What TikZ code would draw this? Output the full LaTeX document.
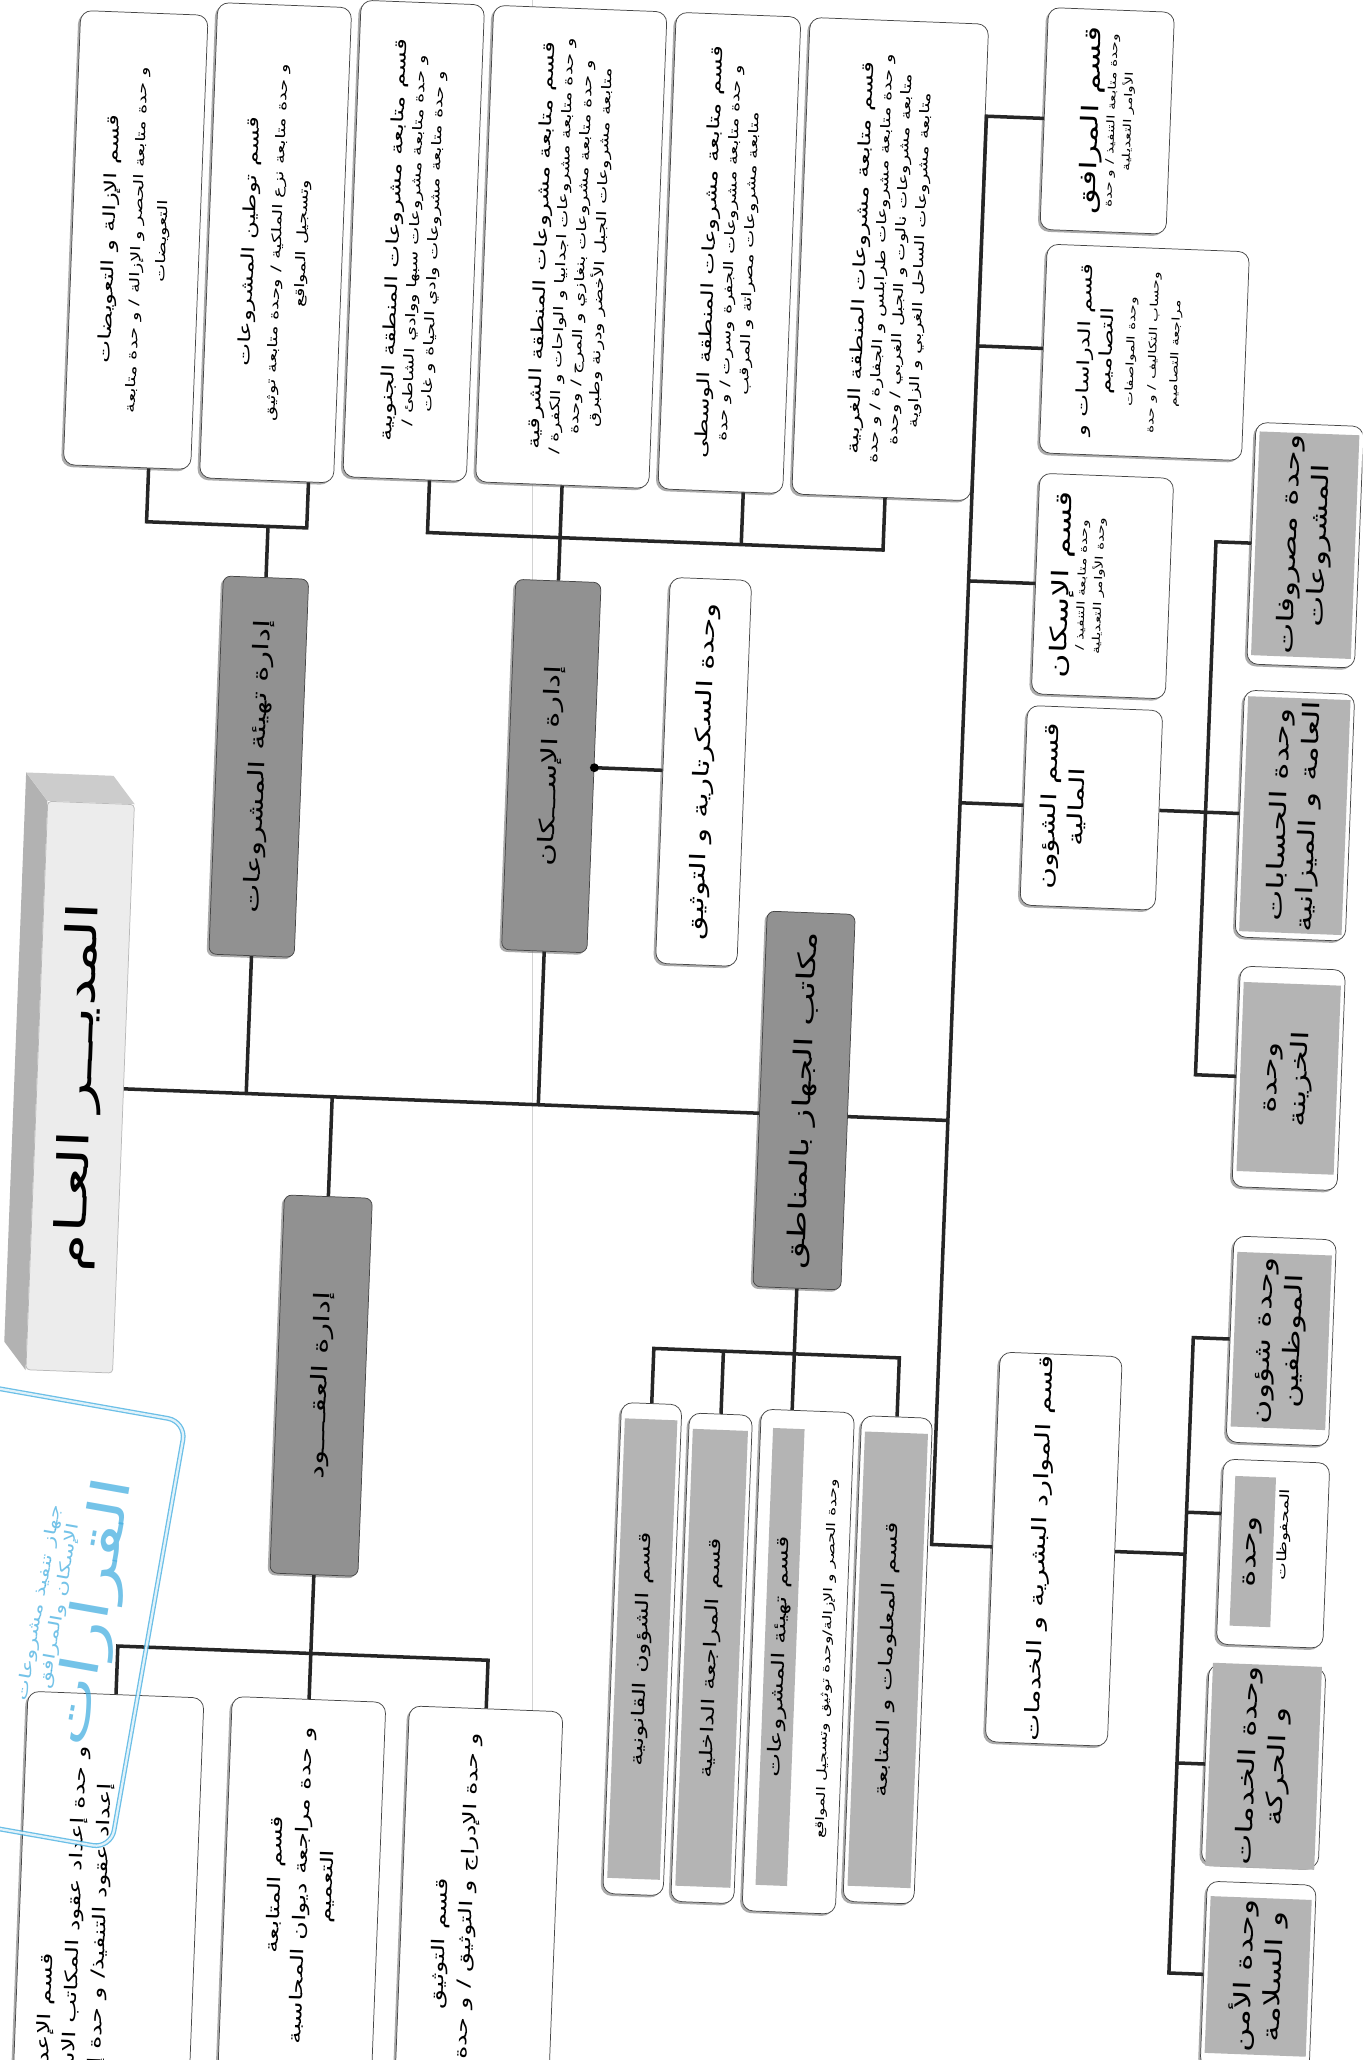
\documentclass[tikz,border=0pt]{standalone}
\usepackage{fontspec}
\usetikzlibrary{calc, shadows}
\newfontfamily\arabicfont[Script=Arabic, FakeStretch=1.45]{DejaVu Sans}
\TeXXeTstate=1
\newcommand\artxt[1]{{\arabicfont\beginR #1\endR}}
\newcommand\padr[1]{\rule[-#1]{0pt}{#1}}
\definecolor{boxline}{RGB}{70,70,70}
\definecolor{mgmtgray}{RGB}{145,145,145}
\definecolor{unitgray}{RGB}{180,180,180}
\definecolor{stampblue}{RGB}{70,175,225}
\newcommand\fdg{\fontsize{23}{27}\selectfont}
\newcommand\fmg{\fontsize{11.6}{14}\selectfont}
\newcommand\fmk{\fontsize{13.3}{16}\selectfont}
\newcommand\fhd{\fontsize{9.1}{12}\selectfont}
\newcommand\fsb{\fontsize{7.2}{10.5}\selectfont}
\newcommand\fxs{\fontsize{5.8}{9}\selectfont}
\newcommand\fst{\fontsize{9.1}{12}\selectfont}
\newcommand\frt{\fontsize{12.4}{15}\selectfont}
\newcommand\ffin{\fontsize{11.2}{15}\selectfont}
\newcommand\funit{\fontsize{12.4}{16}\selectfont}
\newcommand\foff{\fontsize{9.5}{12}\selectfont}
\newcommand\fhr{\fontsize{10.8}{13}\selectfont}
\newcommand\fct{\fontsize{9.5}{14}\selectfont}
\tikzset{
    wh/.style 2 args={minimum width={#2*0.25mm}, minimum height={#1*0.25mm}},
    orgbox/.style={draw=boxline, fill=white, rounded corners=6pt, rotate=90, align=center, inner sep=1pt,
        drop shadow={shadow xshift=-1.2pt, shadow yshift=-1.2pt, fill=black!55, opacity=0.6}},
    mgmtbox/.style={orgbox, fill=mgmtgray, rounded corners=4pt},
    dgbox/.style={draw=gray!55, fill=gray!15, rounded corners=2pt, rotate=90, align=center},
    unitfill/.style={fill=unitgray, rotate=90, align=center, inner sep=1pt},
    conn/.style={line width=1.9pt, draw=black!85},
    stampframe/.style={draw=stampblue, double=white, double distance=1.2pt, line width=0.7pt, rounded corners=10pt, rotate=80, opacity=0.8},
}
\begin{document}
\begin{tikzpicture}[x=0.25mm, y=-0.25mm]
\useasboundingbox (0,0) rectangle (1037,1568);
\fill[white] (0,0) rectangle (1037,1568);
\clip (0,0) rectangle (1037,1568);
% fold of the scan
\draw[gray!35, thin] (405,0) -- (405,1568);
\begin{scope}[transform canvas={rotate around={-2.2:(518,784)}}]
% general manager
\node[dgbox, wh={66}{433}, font=\fdg] (dg) at (63,845) {\artxt{المديـــر العـام}};
\fill[gray!60] ($(dg.north west)+(-17,-21)$) -- ($(dg.north east)+(-17,-21)$) -- (dg.north east) -- (dg.north west) -- cycle;
\fill[gray!40] ($(dg.north east)+(-17,-21)$) -- ($(dg.south east)+(-17,-21)$) -- (dg.south east) -- (dg.north east) -- cycle;

% departments
\node[mgmtbox, wh={65}{288}, font=\fmg] (prep) at (189.5,596) {\artxt{إدارة تهيئة المشروعات}};
\node[mgmtbox, wh={65}{282}, font=\fmg] (hsg) at (412,587) {\artxt{إدارة الإســـكان}};
\node[mgmtbox, wh={67}{288}, font=\fmg] (ctr) at (255,1065) {\artxt{إدارة العقــــود}};
\node[mgmtbox, wh={67}{286}, font=\fmk] (mk) at (614,834) {\artxt{مكاتب الجهاز بالمناطق}};
\node[orgbox, wh={62}{294}, font=\fmg] (sec) at (528,587) {\artxt{وحدة السكرتارية و التوثيق}};

% sections on top
\node[orgbox, wh={97}{346}, font=\fsb] (remv) at (80.5,199) {{\fhd\artxt{قسم الإزالة و التعويضات}}\\[4pt]\artxt{و حدة متابعة الحصر و الإزالة / و حدة متابعة}\\[3pt]\artxt{التعويضات}};
\node[orgbox, wh={102}{362}, font=\fsb] (lands) at (187,197) {{\fhd\artxt{قسم توطين المشروعات}}\\[4pt]\artxt{و حدة متابعة نزع الملكية / وحدة متابعة توثيق}\\[3pt]\artxt{وتسجيل المواقع}};
\node[orgbox, wh={94}{363}, font=\fsb] (zsouth) at (292,191.5) {{\fhd\artxt{قسم متابعة مشروعات المنطقة الجنوبية}}\\\artxt{و حدة متابعة مشروعات سبها ووادي الشاطئ /}\\\artxt{و حدة متابعة مشروعات وادي الحياة و غات}};
\node[orgbox, wh={132}{363}, font=\fsb] (zeast) at (412,191.5) {{\fhd\artxt{قسم متابعة مشروعات المنطقة الشرقية}}\\\artxt{و حدة متابعة مشروعات اجدابيا و الواحات و الكفرة /}\\\artxt{و حدة متابعة مشروعات بنغازي و المرج / وحدة}\\\artxt{متابعة مشروعات الجبل الأخضر ودرنة وطبرق}};
\node[orgbox, wh={95}{363}, font=\fsb] (zmid) at (532.5,191.5) {{\fhd\artxt{قسم متابعة مشروعات المنطقة الوسطى}}\\\artxt{و حدة متابعة مشروعات الجفرة وسرت / و حدة}\\\artxt{متابعة مشروعات مصراتة و المرقب}};
\node[orgbox, wh={136}{363}, font=\fsb] (zwest) at (655,191.5) {{\fhd\artxt{قسم متابعة مشروعات المنطقة الغربية}}\\\artxt{و حدة متابعة مشروعات طرابلس و الجفارة / و حدة}\\\artxt{متابعة مشروعات نالوت و الجبل الغربي / وحدة}\\\artxt{متابعة مشروعات الساحل الغربي و الزاوية}};

% sections on the right
\node[orgbox, wh={96}{169}, font=\fxs] (faci) at (816,80) {{\frt\artxt{قسم المرافق}}\\\artxt{وحدة متابعة التنفيذ / و حدة}\\\artxt{الأوامر التعديلية}};
\node[orgbox, wh={154}{159}, font=\fontsize{5.8}{12}\selectfont] (study) at (851,255) {{\fst\artxt{قسم الدراسات و}}\\{\fst\artxt{التصاميم}}\\\artxt{وحدة المواصفات}\\\artxt{وحساب التكاليف / و حدة}\\\artxt{مراجعة التصاميم}\padr{18pt}};
\node[orgbox, wh={102}{168}, font=\fxs] (hous) at (826,434) {{\frt\artxt{قسم الإسكان}}\\\artxt{وحدة متابعة التنفيذ /}\\\artxt{وحدة الأوامر التعديلية}\padr{28pt}};
\node[orgbox, wh={103}{152}, font=\ffin] (fin) at (824,603) {\artxt{قسم الشؤون}\\\artxt{المالية}\padr{32pt}};
\node[orgbox, wh={93}{291}, font=\fhr] (hr) at (817,1168) {\artxt{قسم الموارد البشرية و الخدمات}\padr{17pt}};

% finance units
\node[orgbox, wh={82}{184}] (exp) at (979,397) {};
\node[unitfill, wh={76}{160}, font=\funit] (expf) at (exp) {\artxt{وحدة مصروفات}\\\artxt{المشروعات}};
\node[orgbox, wh={84}{188}] (acc) at (979,603) {};
\node[unitfill, wh={78}{164}, font=\funit] (accf) at (acc) {\artxt{وحدة الحسابات}\\\artxt{العامة و الميزانية}};
\node[orgbox, wh={80}{168}] (tre) at (982,803) {};
\node[unitfill, wh={74}{144}, font=\funit] (tref) at (tre) {\artxt{وحدة}\\\artxt{الخزينة}};

% staff units
\node[orgbox, wh={78}{157}] (emp) at (984,1003) {};
\node[unitfill, wh={72}{133}, font=\funit] (empf) at (emp) {\artxt{وحدة شؤون}\\\artxt{الموظفين}};
\node[orgbox, wh={81}{141}] (arch) at (984,1165) {};
\node[unitfill, wh={31}{114}, font=\funit] (archf) at (968.5,1164) {\artxt{وحدة}};
\node[rotate=90, font=\fontsize{7}{9}\selectfont] (archt) at (992,1150) {\artxt{المحفوظات}};
\node[orgbox, wh={89}{152}] (serv) at (983,1327) {};
\node[unitfill, wh={83}{128}, font=\funit] (servf) at (serv) {\artxt{وحدة الخدمات}\\\artxt{و الحركة}};
\node[orgbox, wh={83}{142}] (safe) at (985,1487) {};
\node[unitfill, wh={77}{118}, font=\funit] (safef) at (safe) {\artxt{وحدة الأمن}\\\artxt{و السلامة}};

% office sections
\node[orgbox, wh={46}{374}] (ql) at (507,1256) {};
\node[unitfill, wh={40}{350}, font=\foff] (qlf) at (ql) {\artxt{قسم الشؤون القانونية}};
\node[orgbox, wh={48}{372}] (ia) at (560,1261) {};
\node[unitfill, wh={42}{348}, font=\foff] (iaf) at (ia) {\artxt{قسم المراجعة الداخلية}};
\node[orgbox, wh={71}{382}] (pt) at (626,1261) {};
\node[unitfill, wh={24}{348}, font=\foff] (ptf) at (612,1258) {\artxt{قسم تهيئة المشروعات}};
\node[rotate=90, font=\fontsize{6.5}{8}\selectfont] (ptt) at (648,1258) {\artxt{وحدة الحصر و الإزالة/وحدة توثيق وتسجيل المواقع}};
\node[orgbox, wh={54}{370}] (im) at (694,1257) {};
\node[unitfill, wh={48}{346}, font=\foff] (imf) at (im) {\artxt{قسم المعلومات و المتابعة}};

% contract sections
\node[orgbox, wh={134}{572}, font=\fct] (cp) at (108,1592) {\artxt{قسم الإعداد و التجهيز}\\\artxt{و حدة إعداد عقود المكاتب الاستشارية / و حدة متابعة العقود /}\\\artxt{إعداد عقود التنفيذ/ و حدة إعداد أوامر التغيير و الملاحق}\padr{37pt}};
\node[orgbox, wh={117}{284}, font=\fct] (cf) at (255,1446) {\artxt{قسم المتابعة}\\\artxt{و حدة مراجعة ديوان المحاسبة}\\\artxt{التعميم}};
\node[orgbox, wh={117}{360}, font=\fct] (cd) at (390,1486) {\artxt{قسم التوثيق}\\\artxt{و حدة الإدراج و التوثيق / و حدة الأرشيف}\padr{28pt}};

% links
\coordinate (dA) at ($(remv.west)+(16.5,0)$);
\coordinate (dB) at ($(lands.west)+(32,0)$);
\coordinate (dC) at ($(zsouth.west)+(19,0)$);
\coordinate (dE) at ($(zmid.west)+(17.5,0)$);
\coordinate (dF) at ($(zwest.west)+(3,0)$);
\coordinate (br1) at (189.5,413);
\coordinate (br2) at (412,413);
\coordinate (br3) at (255,1269);
\coordinate (br4) at (614,1027);
\coordinate (bus) at (724,0);
\coordinate (finbus) at (911,0);
\coordinate (hrbus) at (917,0);
\coordinate (archin) at ($(arch.north)+(0,-29)$);

\draw[conn] (dA) |- (br1) -| (dB);
\draw[conn] (prep.east) -- (br1);
\draw[conn] (dC) |- (br2) -| (dF);
\draw[conn] (zeast.west) -- (hsg.east);
\draw[conn] (dE) -- (dE |- br2);

\draw[conn] (dg.south) -- (dg.south -| mk.north);
\draw[conn] (prep.west) -- (prep.west |- dg.south);
\draw[conn] (hsg.west) -- (hsg.west |- dg.south);
\draw[conn] (ctr.east) -- (ctr.east |- dg.south);
\draw[conn] (hsg.south) -- (sec.north);
\fill (hsg.south) circle (2.4pt);

\draw[conn] (ctr.west) -- (cf.east);
\draw[conn] (cp.east) |- (br3) -| (cd.east);

\draw[conn] (mk.west) -- (mk.west |- pt.east);
\draw[conn] (ql.east) |- (br4) -| (im.east);
\draw[conn] (ia.east) -- (ia.east |- br4);

\draw[conn] (mk.south |- dg.south) -- (bus |- dg.south);
\draw[conn] (faci.north) -| (bus |- hr.north) -- (hr.north);
\foreach \n in {study,hous,fin} \draw[conn] (\n.north) -- (\n.north -| bus);

\draw[conn] (exp.north) -| (finbus |- tre.north) -- (tre.north);
\draw[conn] (fin.south) -- (acc.north);

\draw[conn] (emp.north) -| (hrbus |- safe.north) -- (safe.north);
\draw[conn] (hr.south) -- (hr.south -| hrbus);
\draw[conn] (archin) -- (archin -| hrbus);
\draw[conn] (serv.north) -- (serv.north -| hrbus);
\end{scope}

% stamp
\node[stampframe, minimum width=330*0.25mm, minimum height=260*0.25mm] (stamp) at (-15,1222) {};
\node[rotate=80, text=stampblue, align=center, opacity=0.75, font=\fontsize{8.5}{11}\selectfont] (stamptext) at (58,1225) {\artxt{جهاز تنفيذ مشروعات}\\\artxt{الإسكان والمرافق}\\{\fontsize{28}{30}\selectfont\artxt{القرارات}}};
\end{tikzpicture}
\end{document}
